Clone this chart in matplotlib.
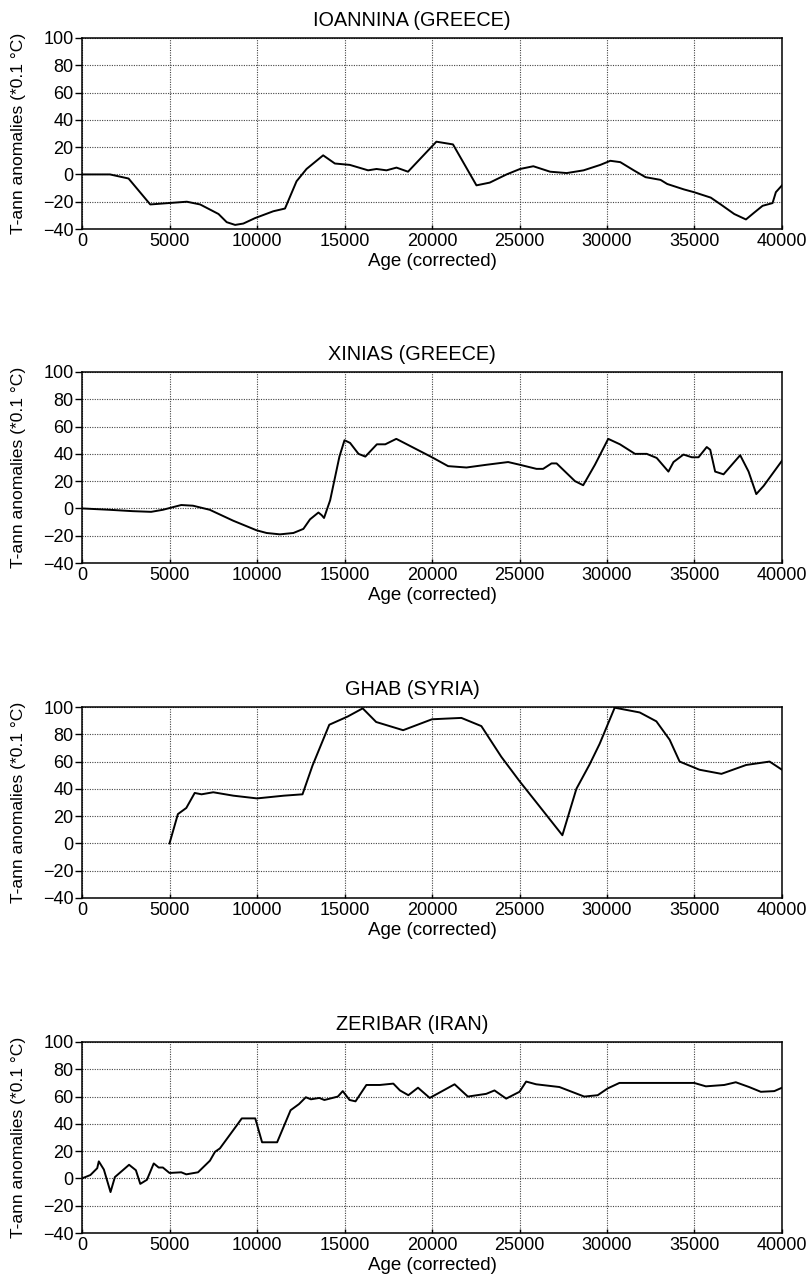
import matplotlib
matplotlib.use("Agg")
import matplotlib.pyplot as plt

plt.rcParams['font.family'] = ['Liberation Sans', 'DejaVu Sans']

titles = ["IOANNINA (GREECE)", "XINIAS (GREECE)", "GHAB (SYRIA)", "ZERIBAR (IRAN)"]

ioannina_age = [0, 1600, 2660, 3900, 4940, 5990, 6750, 7800, 8270, 8750, 9220, 9890,
                10930, 11600, 12260, 12830, 13780, 14450, 15300, 16350, 16830, 17400,
                17970, 18630, 20250, 21200, 22540, 23300, 24260, 25030, 25790, 26750,
                27700, 28660, 29620, 30190, 30760, 31530, 32200, 33060, 33440, 34400,
                34970, 35930, 36500, 37270, 37940, 38410, 38890, 39460, 39650, 40000]
ioannina_t = [0, 0, -3, -22, -21, -20, -22, -29, -35, -37, -36, -32,
              -27, -25, -5, 4, 14, 8, 7, 3, 4, 3,
              5, 2, 24, 22, -8, -6, 0, 4, 6, 2,
              1, 3, 7, 10, 9, 3, -2, -4, -7, -11,
              -13, -17, -22, -29, -33, -28, -23, -21, -13, -8]

xinias_age = [0, 1570, 2900, 3950, 4620, 5670, 6340, 7300, 8640, 9970, 10550, 11310,
              12080, 12650, 13030, 13510, 13700, 13830, 14180, 14710, 15000, 15320,
              15800, 16190, 16850, 17330, 17960, 20000, 20920, 21970, 23110, 24350,
              25020, 25970, 26350, 26830, 27120, 28170, 28640, 29310, 30070, 30740,
              31600, 32270, 32840, 33510, 33800, 34370, 34850, 35230, 35700, 35900,
              36180, 36660, 37610, 38090, 38530, 38950, 40000]
xinias_t = [0, -1, -2, -2.5, -1, 2.5, 2, -1, -9, -16, -18, -19,
            -18, -15, -8, -3, -5, -7, 6, 38, 50, 48,
            40, 38, 47, 47, 51, 37.5, 31, 30, 32, 34,
            32, 29, 29, 33, 33, 20, 17, 32, 51, 47,
            40, 40, 37, 27, 34, 39.5, 37.5, 37.5, 45, 43,
            27, 25, 39, 27, 10.5, 16.5, 35]

ghab_age = [5000, 5480, 5960, 6440, 6830, 7500, 8650, 10000, 11530, 12600, 13170,
            13650, 14130, 15180, 16040, 16810, 18350, 20000, 20820, 21680, 22820,
            23960, 25010, 25970, 27450, 28250, 29010, 29580, 30440, 31870, 32820,
            33580, 34150, 35290, 36540, 37950, 39290, 40000]
ghab_t = [0, 21.5, 26, 37, 36, 37.5, 35, 33, 35, 36, 57,
          72, 87, 93, 99, 89, 83, 91, 91.5, 92, 86,
          63.5, 45.5, 30, 6, 40, 58, 73, 99.5, 96, 89.5,
          76, 60, 54, 51, 57.5, 60, 54]

zeribar_age = [0, 480, 870, 960, 1250, 1630, 1880, 2690, 3080, 3330, 3710, 4100,
               4380, 4620, 5000, 5670, 5960, 6630, 7310, 7600, 7880, 8850, 9130,
               9900, 10290, 11150, 11920, 12400, 12790, 13080, 13560, 13850, 14620,
               14900, 15290, 15630, 16250, 17020, 17790, 18170, 18650, 19200, 19870,
               20440, 21290, 22050, 23100, 23570, 24240, 25000, 25380, 25950, 27280,
               28700, 29470, 30040, 30710, 33370, 34980, 35650, 36700, 37360, 38120,
               38790, 39560, 40000]
zeribar_t = [0, 2.5, 7.5, 12.5, 6.5, -10, 1, 10, 6, -4, -1, 11,
             8, 8, 4, 4.5, 3, 4.5, 13, 19.5, 22, 39, 44,
             44, 26.5, 26.5, 50, 54.5, 59.5, 58, 59, 57.5, 60,
             64, 57.5, 56.5, 68.5, 68.5, 69.5, 64.5, 61, 66.5, 59,
             63, 69, 60, 62, 64.5, 58.5, 63.5, 71, 69, 67,
             60, 61, 66, 70, 70, 70, 67.5, 68.5, 70.5, 67,
             63.5, 64, 66.5]

series = [(ioannina_age, ioannina_t), (xinias_age, xinias_t),
          (ghab_age, ghab_t), (zeribar_age, zeribar_t)]

x_ticks = [0, 5000, 10000, 15000, 20000, 25000, 30000, 35000, 40000]
y_ticks = [-40, -20, 0, 20, 40, 60, 80, 100]

W, H = 810, 1280
fig = plt.figure(figsize=(W / 100, H / 100), dpi=100)

tops = [38, 372, 707, 1042]
ax_h = 191
left, width = 82, 700
title_x = 412

for (age, t), title, top in zip(series, titles, tops):
    ax = fig.add_axes([left / W, 1 - (top + ax_h) / H, width / W, ax_h / H])
    ax.plot(age, t, color='black', lw=1.4)
    ax.set_xlim(0, 40000)
    ax.set_ylim(-40, 100)
    ax.set_xticks(x_ticks)
    ax.set_yticks(y_ticks)
    ax.set_xticklabels([str(v) for v in x_ticks])
    ax.grid(True, color='#444444', linestyle=(0, (1, 1.2)), linewidth=0.8)
    ax.set_axisbelow(True)
    for s in ax.spines.values():
        s.set_color('black')
        s.set_linewidth(1.1)
    ax.tick_params(axis='y', direction='out', length=5, width=1, labelsize=13, pad=1)
    ax.tick_params(axis='x', direction='in', length=3, width=1, labelsize=13, pad=3)
    ax.set_title(title, fontsize=14.3, pad=8.5,
                 x=(title_x - left) / width)
    ax.set_xlabel("Age (corrected)", fontsize=13.5, labelpad=2)
    ax.set_ylabel("T-ann anomalies (*0.1 °C)", fontsize=12.6, labelpad=12)

fig.savefig("out.png", dpi=100)
